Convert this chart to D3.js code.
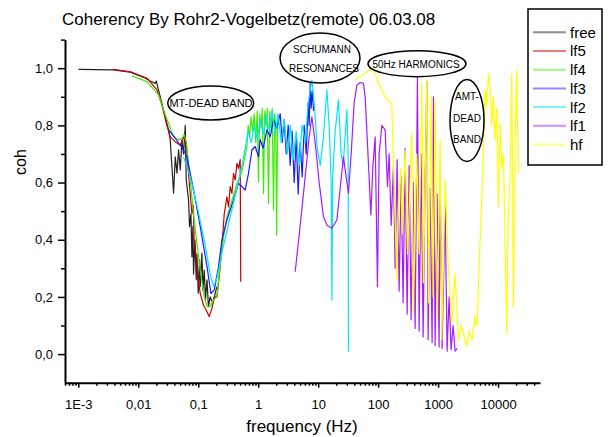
<!DOCTYPE html>
<html>
<head>
<meta charset="utf-8">
<script src="https://cdn.jsdelivr.net/npm/d3@7"></script>
<style>
  body { margin: 0; background: #fff; }
  svg { font-family: "Liberation Sans", Arial, sans-serif; }
</style>
</head>
<body>
<svg id="chart" width="609" height="437"></svg>
<script>
// Coherency curves, [frequency (Hz), coh]
var seriesNames = ["free", "lf5", "lf4", "lf3", "lf2", "lf1", "hf"];
var seriesColors = ["#222222", "#cc0000", "#3cee00", "#1a1aff", "#00e5ff", "#a61cff", "#ffff00"];

var freeData = [[0.00101,0.996],[0.00383,0.994],[0.00736,0.986],[0.01226,0.968],[0.01585,0.955],[0.0192,0.947],
  [0.02,0.955],[0.02326,0.90],[0.0282,0.83],[0.032,0.784],[0.0341,0.75],[0.0364,0.655],[0.0388,0.563],
  [0.0414,0.69],[0.0442,0.633],[0.047,0.714],[0.0501,0.644],[0.0535,0.749],[0.0569,0.70],[0.0607,0.80],
  [0.0631,0.609],[0.0689,0.54],[0.0716,0.446],[0.0755,0.49],[0.0785,0.34],[0.0816,0.446],[0.0835,0.28],
  [0.0881,0.40],[0.0926,0.26],[0.0951,0.35],[0.1,0.213],[0.105,0.33],[0.108,0.236],[0.115,0.353],
  [0.12,0.224],[0.126,0.294],[0.132,0.189],[0.14,0.26],[0.148,0.166],[0.158,0.20],[0.176,0.178],
  [0.192,0.213],[0.205,0.236]];

var lf5Data = [[0.00385,0.996],[0.00785,0.986],[0.01396,0.965],[0.0205,0.924],[0.0248,0.871],[0.0293,0.807],
  [0.0341,0.76],[0.0414,0.743],[0.0501,0.73],[0.0569,0.76],[0.0631,0.737],[0.0689,0.632],[0.0785,0.49],
  [0.083,0.52],[0.0855,0.40],[0.0891,0.375],[0.0973,0.282],[0.108,0.212],[0.1226,0.171],[0.14,0.148],
  [0.1526,0.131],[0.1692,0.16],[0.1848,0.20],[0.205,0.20],[0.2265,0.282],[0.2483,0.375],[0.2712,0.49],
  [0.3008,0.55],[0.32,0.515],[0.3415,0.586],[0.3645,0.562],[0.3876,0.632],[0.4137,0.609],[0.4416,0.667],
  [0.4695,0.65],[0.501,0.68],[0.511,0.253]];

var lf4Data = [[0.00785,0.973],[0.01396,0.953],[0.0218,0.907],[0.0264,0.854],[0.032,0.807],[0.0388,0.76],
  [0.047,0.749],[0.0535,0.755],[0.0584,0.767],[0.0631,0.743],[0.0736,0.609],[0.0835,0.49],[0.0951,0.387],
  [0.108,0.294],[0.1226,0.212],[0.14,0.166],[0.158,0.166],[0.1799,0.189],[0.205,0.20],[0.2265,0.294],
  [0.264,0.41],[0.3008,0.48],[0.3645,0.539],[0.4416,0.597],[0.535,0.638],[0.648,0.726],[0.681,0.80],
  [0.721,0.76],[0.764,0.83],[0.81,0.78],[0.858,0.84],[0.909,0.74],[0.962,0.85],[1.01,0.603],[1.06,0.84],
  [1.12,0.79],[1.166,0.86],[1.225,0.563],[1.283,0.85],[1.36,0.80],[1.41,0.86],[1.485,0.528],[1.555,0.85],
  [1.65,0.78],[1.71,0.86],[1.8,0.504],[1.88,0.84],[1.96,0.80],[2.03,0.416],[2.11,0.83],[2.2,0.80]];

var lf3Data = [[0.032,0.784],[0.0414,0.755],[0.0569,0.714],[0.0648,0.69],[0.0835,0.574],[0.108,0.446],
  [0.14,0.306],[0.1627,0.212],[0.1848,0.224],[0.218,0.306],[0.2483,0.40],[0.3008,0.469],[0.3876,0.539],
  [0.4695,0.597],[0.535,0.586],[0.607,0.574],[0.689,0.632],[0.785,0.714],[0.891,0.726],[1.012,0.69],
  [1.08,0.75],[1.21,0.72],[1.396,0.784],[1.585,0.76],[1.8,0.82],[2.03,0.79],[2.33,0.84],[2.51,0.74],
  [2.71,0.82],[2.93,0.70],[3.16,0.80],[3.41,0.66],[3.68,0.78],[3.98,0.60],[4.3,0.76],[4.64,0.56],
  [5.01,0.74],[5.41,0.62],[5.84,0.80],[6.31,0.70],[6.81,0.88],[7.08,0.80],[7.36,0.95],[7.65,0.86],
  [7.94,0.92],[8.41,0.85]];

var lf2Data = [[0.0569,0.69],[0.0736,0.62],[0.1,0.50],[0.1308,0.38],[0.158,0.28],[0.1799,0.236],[0.2073,0.27],
  [0.2512,0.36],[0.3162,0.45],[0.3981,0.54],[0.501,0.63],[0.5843,0.70],[0.6813,0.78],[0.7643,0.74],
  [0.8577,0.80],[0.9624,0.75],[1.08,0.82],[1.212,0.77],[1.36,0.84],[1.525,0.78],[1.711,0.85],[1.92,0.77],
  [2.154,0.84],[2.417,0.74],[2.712,0.82],[3.043,0.70],[3.415,0.80],[3.831,0.68],[4.299,0.78],[4.824,0.66],
  [5.412,0.80],[6.073,0.74],[6.813,0.88],[7.852,0.959],[8.577,0.88],[9.624,0.72],[10.8,0.66],[12.12,0.75],
  [13.96,0.924],[15.25,0.80],[16.48,0.60],[16.92,0.189],[17.44,0.62],[19.2,0.78],[21.79,0.889],
  [24.17,0.70],[26.1,0.66],[30.09,0.854],[31.62,0.70],[31.99,0.008]];

var lf1Data = [[4.14,0.288],[5.01,0.45],[6.07,0.62],[7.08,0.76],[7.85,0.83],[8.91,0.74],[10.39,0.60],
  [12.26,0.48],[14.13,0.45],[16.92,0.44],[20.5,0.469],[23.26,0.58],[26.41,0.69],[29.29,0.62],[31.99,0.562],
  [35.48,0.70],[39.81,0.88],[44.16,0.94],[50.12,0.95],[56.89,0.947],[60.7,0.90],[68.91,0.667],[75.54,0.487],
  [81.6,0.655],[89.13,0.76],[97.35,0.236],[103.9,0.70],[115.3,0.80],[130.8,0.784],[142.9,0.586],[152.5,0.70],
  [164.8,0.45],[179.9,0.655],[192,0.30],[207.4,0.68],[223.9,0.22],[241.7,0.62],[261,0.18],[281.8,0.72],
  [304.3,0.14],[328.6,0.66],[354.8,0.12],[383.1,0.60],[413.7,0.09],[451.9,0.97],[482.5,0.08],[521,0.70],
  [562.3,0.06],[607.4,0.62],[648.2,0.953],[681.3,0.05],[735.6,0.58],[794.3,0.04],[835,0.90],[891.3,0.03],
  [962.4,0.56],[1039,0.025],[1080,0.63],[1166,0.02],[1309,0.515],[1413,0.01],[1525,0.20],[1647,0.015],
  [1778,0.10],[1920,0.01],[2073,0.02]];

var hfData = [[41.4,0.961],[54.1,0.975],[68.1,0.99],[83.5,1.0],[101.2,0.947],[130.8,0.90],[158.5,0.883],
  [169.2,0.87],[179.9,0.667],[205,0.26],[219.7,0.55],[237.1,0.65],[251.2,0.42],[281.8,0.714],[310.2,0.35],
  [364.5,0.772],[387.6,0.143],[438.2,0.70],[482.5,0.35],[535,0.947],[568.9,0.25],[648.2,0.96],[694.5,0.18],
  [764.2,0.90],[825.4,0.20],[891.3,0.889],[973.4,0.12],[1080,0.749],[1153,0.049],[1309,0.609],[1485,0.30],
  [1692,0.107],[1920,0.282],[2179,0.049],[2417,0.10],[2641,0.072],[3008,0.026],[3286,0.08],[3687,0.05],
  [4138,0.131],[4467,0.10],[5012,0.40],[5559,0.632],[6073,0.924],[6482,0.865],[6891,0.982],[7356,0.93],
  [7852,0.80],[8352,0.90],[8913,0.749],[9513,0.86],[10120,0.515],[10800,0.807],[11530,0.65],[12260,0.70],
  [13090,0.40],[13960,0.072],[14850,0.50],[15850,0.609],[16920,0.982],[17990,0.166],[19200,0.75],
  [20500,0.994],[21790,0.632]];

var seriesData = [freeData, lf5Data, lf4Data, lf3Data, lf2Data, lf1Data, hfData];

var xTickValues = [1e-3, 1e-2, 1e-1, 1, 10, 100, 1000, 10000];
var xTickLabels = ["1E-3", "0,01", "0,1", "1", "10", "100", "1000", "10000"];
var yTickValues = [0, 0.2, 0.4, 0.6, 0.8, 1.0];
var yTickLabels = ["0,0", "0,2", "0,4", "0,6", "0,8", "1,0"];
var yMinorTicks = [0.1, 0.3, 0.5, 0.7, 0.9, 1.1];

var svg = d3.select("#chart");

// Scales
var x = d3.scaleLog().domain([6e-4, 5e4]).range([65, 540]);
var y = d3.scaleLinear().domain([-0.1, 1.1]).range([382.7, 39.6]);

var xMinor = [];
for (var e = -4; e <= 4; e++) {
  for (var m = 2; m <= 9; m++) {
    var v = m * Math.pow(10, e);
    if (v >= 6e-4 && v < 5e4) xMinor.push(v);
  }
}

// Curves
var line = d3.line()
  .x(function(d) { return x(d[0]); })
  .y(function(d) { return y(d[1]); });

svg.append("g").selectAll("path")
    .data(seriesData)
  .enter().append("path")
    .attr("d", line)
    .attr("fill", "none")
    .attr("stroke", function(d, i) { return seriesColors[i]; })
    .attr("stroke-width", 1.2)
    .attr("stroke-linejoin", "round");

// Axes
svg.append("g")
  .attr("transform", "translate(0,382.7)")
  .call(d3.axisBottom(x).tickValues(xTickValues)
    .tickFormat(function(d, i) { return xTickLabels[i]; })
    .tickSize(5).tickSizeOuter(0).tickPadding(12));
svg.append("g")
  .attr("transform", "translate(0,382.7)")
  .call(d3.axisBottom(x).tickValues(xMinor).tickFormat("").tickSize(3).tickSizeOuter(0))
  .select(".domain").remove();

svg.append("g")
  .attr("transform", "translate(65,0)")
  .call(d3.axisLeft(y).tickValues(yTickValues)
    .tickFormat(function(d, i) { return yTickLabels[i]; })
    .tickSize(7).tickSizeOuter(0).tickPadding(5));
svg.append("g")
  .attr("transform", "translate(65,0)")
  .call(d3.axisLeft(y).tickValues(yMinorTicks).tickFormat("").tickSize(4).tickSizeOuter(0))
  .select(".domain").remove();

svg.selectAll(".domain").attr("stroke", "#000").attr("stroke-width", 2);
svg.selectAll(".tick line").attr("stroke", "#000").attr("stroke-width", 1.5);
svg.selectAll(".tick text")
  .attr("fill", "#000")
  .style("font-size", "13px")
  .style("font-family", "'Liberation Sans', Arial, sans-serif");

// Titles
svg.append("text")
  .attr("x", 62).attr("y", 25)
  .style("font-size", "17px")
  .text("Coherency By Rohr2-Vogelbetz(remote) 06.03.08");

svg.append("text")
  .attr("transform", "translate(26,162) rotate(-90)")
  .attr("text-anchor", "middle")
  .style("font-size", "16px")
  .text("coh");

svg.append("text")
  .attr("x", 302).attr("y", 432)
  .attr("text-anchor", "middle")
  .style("font-size", "17px")
  .text("frequency (Hz)");

// Legend
var legend = svg.append("g");
legend.append("rect")
  .attr("x", 528).attr("y", 9)
  .attr("width", 74).attr("height", 156)
  .attr("fill", "#fff").attr("stroke", "#000").attr("stroke-width", 1.5);

var rows = legend.selectAll(".row")
    .data(seriesNames)
  .enter().append("g")
    .attr("class", "row")
    .attr("transform", function(d, i) { return "translate(0," + (32.3 + i * 18.7) + ")"; });
rows.append("line")
  .attr("x1", 533).attr("x2", 566)
  .attr("stroke", function(d, i) { return seriesColors[i]; })
  .attr("stroke-opacity", 0.5)
  .attr("stroke-width", 2);
rows.append("text")
  .attr("x", 570).attr("dy", "0.36em")
  .style("font-size", "15px")
  .text(function(d) { return d; });

// Annotations (ellipses)
var notes = svg.append("g").style("font-size", "10px").attr("text-anchor", "middle");

notes.append("ellipse").attr("cx", 210.7).attr("cy", 103).attr("rx", 43).attr("ry", 17);
notes.append("text").attr("x", 211).attr("y", 107).style("font-size", "11px").text("MT-DEAD BAND");

notes.append("ellipse").attr("cx", 320).attr("cy", 58).attr("rx", 40).attr("ry", 25);
notes.append("text").attr("x", 322).attr("y", 53).text("SCHUMANN");
notes.append("text").attr("x", 324).attr("y", 72).text("RESONANCES");

notes.append("ellipse").attr("cx", 417).attr("cy", 63.7).attr("rx", 49).attr("ry", 13);
notes.append("text").attr("x", 416).attr("y", 67.5).text("50Hz HARMONICS");

notes.append("ellipse").attr("cx", 467).attr("cy", 120.5).attr("rx", 17).attr("ry", 41);
notes.append("text").attr("x", 467).attr("y", 100).text("AMT-");
notes.append("text").attr("x", 467).attr("y", 122).text("DEAD");
notes.append("text").attr("x", 467).attr("y", 143).text("BAND");

notes.selectAll("ellipse")
  .attr("fill", "none").attr("stroke", "#000").attr("stroke-width", 1.5);
</script>
</body>
</html>
